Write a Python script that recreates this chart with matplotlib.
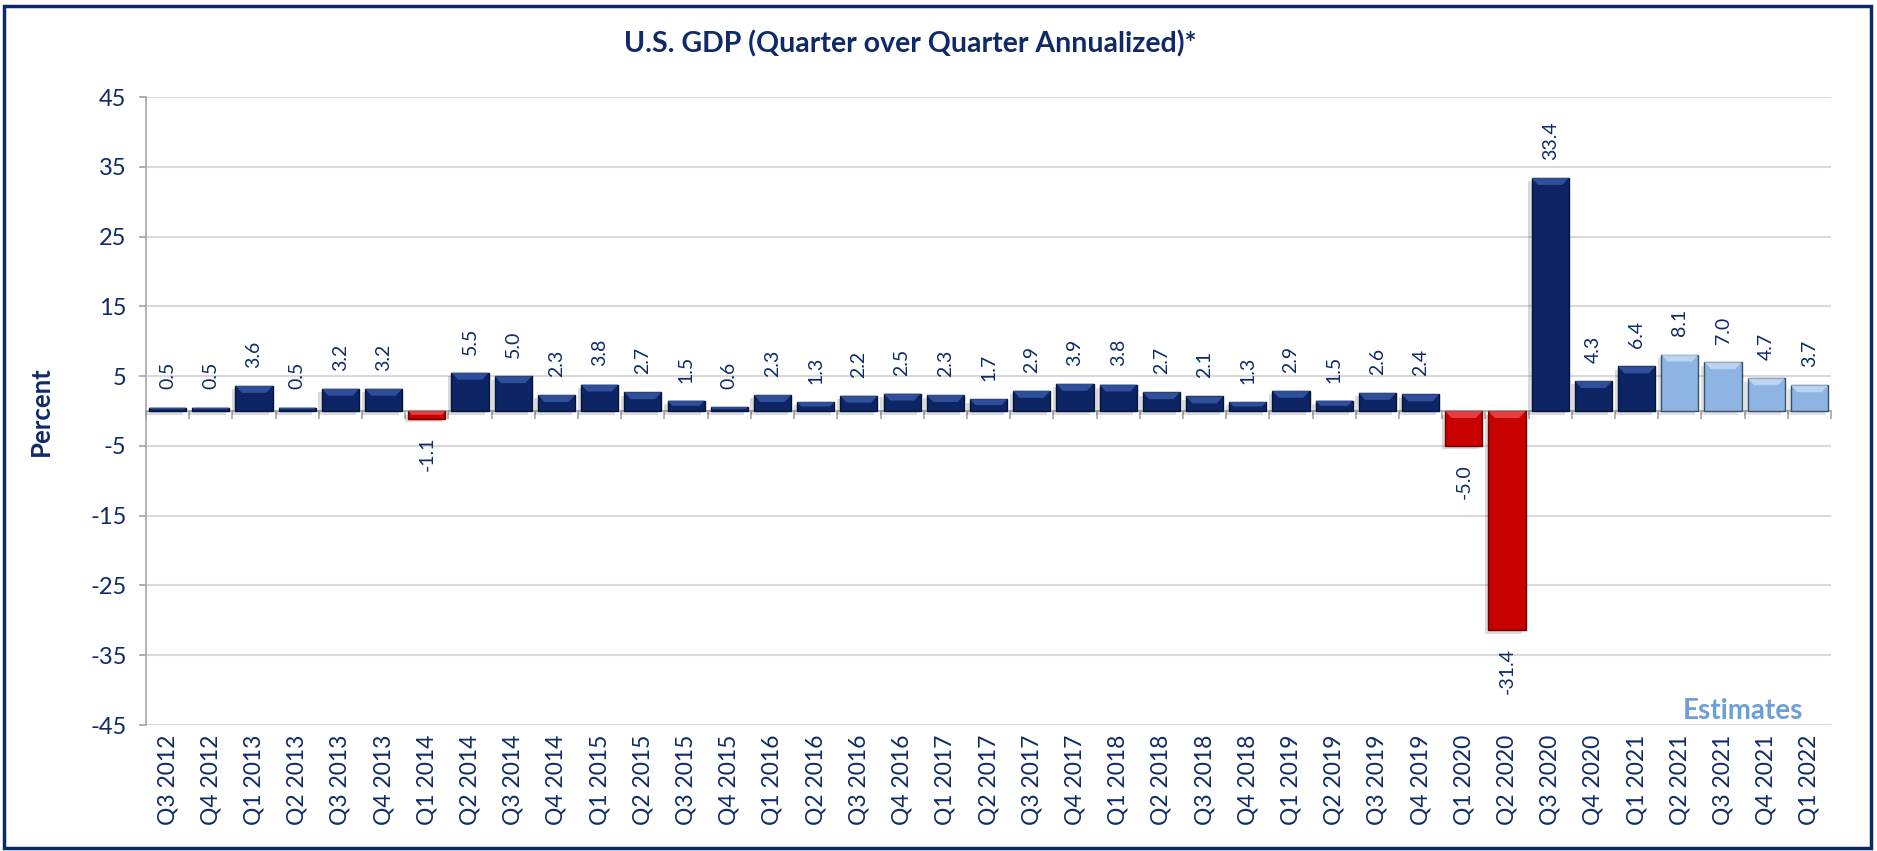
import numpy as np
import matplotlib.pyplot as plt
from matplotlib.patches import Rectangle, Polygon
import matplotlib.patheffects as pe

plt.rcParams['font.family'] = ['Lato', 'DejaVu Sans']

quarters = ['Q3 2012', 'Q4 2012', 'Q1 2013', 'Q2 2013', 'Q3 2013', 'Q4 2013',
            'Q1 2014', 'Q2 2014', 'Q3 2014', 'Q4 2014', 'Q1 2015', 'Q2 2015',
            'Q3 2015', 'Q4 2015', 'Q1 2016', 'Q2 2016', 'Q3 2016', 'Q4 2016',
            'Q1 2017', 'Q2 2017', 'Q3 2017', 'Q4 2017', 'Q1 2018', 'Q2 2018',
            'Q3 2018', 'Q4 2018', 'Q1 2019', 'Q2 2019', 'Q3 2019', 'Q4 2019',
            'Q1 2020', 'Q2 2020', 'Q3 2020', 'Q4 2020', 'Q1 2021', 'Q2 2021',
            'Q3 2021', 'Q4 2021', 'Q1 2022']
gdp = [0.5, 0.5, 3.6, 0.5, 3.2, 3.2, -1.1, 5.5, 5.0, 2.3, 3.8, 2.7, 1.5, 0.6,
       2.3, 1.3, 2.2, 2.5, 2.3, 1.7, 2.9, 3.9, 3.8, 2.7, 2.1, 1.3, 2.9, 1.5,
       2.6, 2.4, -5.0, -31.4, 33.4, 4.3, 6.4, 8.1, 7.0, 4.7, 3.7]
n_estimates = 4
yticks = [-45, -35, -25, -15, -5, 5, 15, 25, 35, 45]

navy = '#0d2565'
txt = '#0e2a68'
red = '#c80000'
light = '#8db4e2'
grey = '#a6a6a6'

fig = plt.figure(figsize=(18.77, 8.51), dpi=100)
ax = fig.add_axes([0.0778, 0.148, 0.8977, 0.738])

n = len(gdp)
x = np.arange(n)
face, edge, bevel = [], [], []
for i, v in enumerate(gdp):
    if i >= n - n_estimates:
        face.append(light); edge.append('#3a4f6a'); bevel.append('#c6ddf6')
    elif v < 0:
        face.append(red); edge.append('#6a0000'); bevel.append('#ee5050')
    else:
        face.append(navy); edge.append('#061434'); bevel.append('#3a5aa8')

bars = ax.bar(x, gdp, width=0.86, color=face, edgecolor=edge, linewidth=1.0,
              zorder=3)
for b in bars:
    b.set_path_effects([pe.SimplePatchShadow(offset=(-2.5, -2.5), alpha=0.15),
                        pe.Normal()])

# bevel strip at the top of every bar
for b, c in zip(bars, bevel):
    x0 = b.get_x()
    w = b.get_width()
    top = max(b.get_y(), b.get_y() + b.get_height())
    h = abs(b.get_height())
    dy = min(1.0, h / 2)
    dx = min(0.15, dy * 0.15)
    ax.add_patch(Polygon([(x0, top), (x0 + w, top), (x0 + w - dx, top - dy),
                          (x0 + dx, top - dy)], closed=True, facecolor=c,
                         edgecolor='none', alpha=0.8, zorder=4))

for i, v in enumerate(gdp):
    off = 13 if v > 0 else -13
    ax.annotate(f'{v:.1f}', (i, v), xytext=(0, off), textcoords='offset points',
                rotation=90, ha='center', va='bottom' if v > 0 else 'top',
                fontsize=14, color=txt)

ax.set_xlim(-0.5, n - 0.5)
ax.set_ylim(-45, 45)
ax.set_yticks(yticks)
ax.set_yticklabels([str(t) for t in yticks])
ax.set_xticks(x)
ax.set_xticklabels(quarters, rotation=90)
ax.tick_params(axis='x', length=0, pad=7, labelsize=16.5, labelcolor=txt)
ax.tick_params(axis='y', length=5, width=1.2, color=grey, pad=9,
               labelsize=17, labelcolor=txt)
ax.grid(axis='y', color='#d9d9d9', linewidth=1.5)
ax.set_axisbelow(True)
for s in ['top', 'right', 'bottom']:
    ax.spines[s].set_visible(False)
ax.spines['left'].set_color(grey)
ax.spines['left'].set_linewidth(1.2)

ax.set_ylabel('Percent', fontsize=18.5, fontweight='bold', color=txt)
ax.yaxis.set_label_coords(-0.055, 0.5)

# category axis at zero with boundary ticks
ax2 = ax.twiny()
ax2.set_xlim(ax.get_xlim())
ax2.spines['bottom'].set_position(('data', 0))
ax2.xaxis.set_ticks_position('bottom')
ax2.set_xticks(np.arange(n + 1) - 0.5)
ax2.set_xticklabels([])
ax2.tick_params(axis='x', direction='out', length=6, width=1.2, color=grey)
for s in ['top', 'right', 'left']:
    ax2.spines[s].set_visible(False)
ax2.spines['bottom'].set_color(grey)
ax2.spines['bottom'].set_linewidth(1.2)
ax2.set_zorder(ax.get_zorder() - 1)
ax.patch.set_visible(False)

fig.text(0.485, 0.948, 'U.S. GDP (Quarter over Quarter Annualized)*',
         ha='center', va='center', fontsize=20.5, fontweight='bold', color=txt)
fig.text(0.9285, 0.165, 'Estimates', ha='center', va='center', fontsize=20,
         fontweight='bold', color='#6a9fd8')

fig.patches.append(Rectangle((0.002, 0.003), 0.995, 0.99, transform=fig.transFigure,
                             fill=False, edgecolor='#0b2a6b', linewidth=2.5))

fig.savefig('out.png', dpi=100)
